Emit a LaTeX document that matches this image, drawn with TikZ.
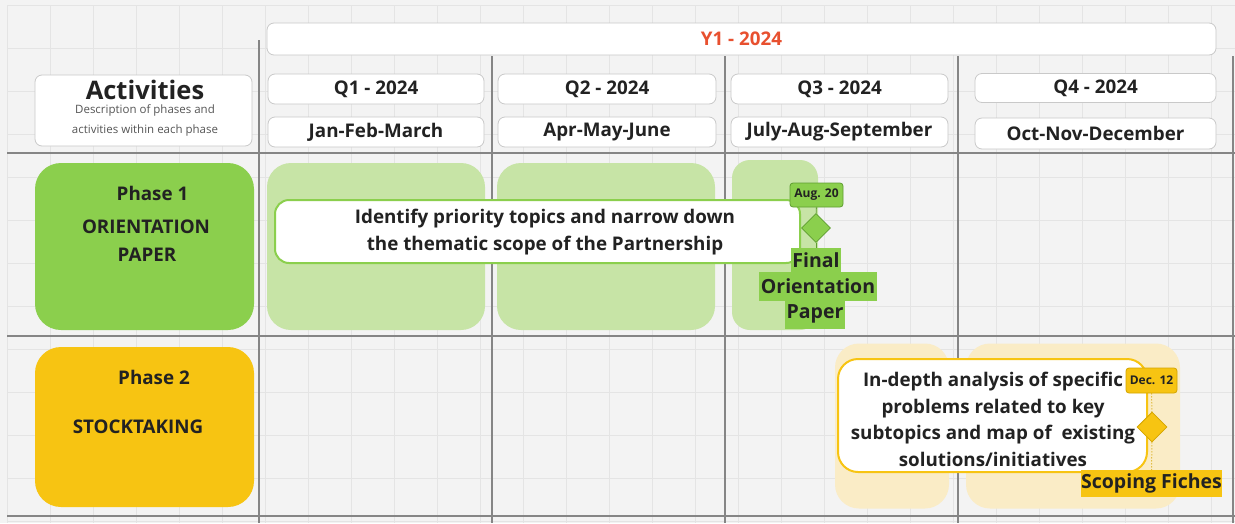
\documentclass[tikz,border=0pt]{standalone}
\usepackage{fontspec}
\setmainfont{Open Sans}
\usetikzlibrary{shapes.geometric}
\definecolor{bgc}{HTML}{F3F3F3}
\definecolor{gridc}{HTML}{E4E4E4}
\definecolor{sepc}{HTML}{858585}
\definecolor{hdrline}{HTML}{C9C9C9}
\definecolor{txt}{HTML}{222222}
\definecolor{redt}{HTML}{E8502F}
\definecolor{greenA}{HTML}{8BCF4D}
\definecolor{greenL}{HTML}{C7E4A6}
\definecolor{greenD}{HTML}{5E9E30}
\definecolor{yelA}{HTML}{F7C412}
\definecolor{yelL}{HTML}{FAECC6}
\definecolor{yelD}{HTML}{D4A500}
\definecolor{desct}{HTML}{555555}
\tikzset{
  bigtext/.style={font=\fontsize{18.8}{26.5}\selectfont\bfseries, text=txt},
  hdr/.style={draw=hdrline, line width=0.8pt, fill=white, rounded corners=7pt, bigtext, inner sep=0pt},
  phasebox/.style={rounded corners=26pt, inner sep=0pt},
  bandbox/.style={rounded corners=24pt, inner sep=0pt},
  taskbox/.style={fill=white, line width=2pt, rounded corners=14pt, inner sep=0pt, bigtext, align=center},
  tagbox/.style={rounded corners=3pt, line width=0.8pt, inner sep=0pt, font=\fontsize{12}{13}\selectfont\bfseries, text=txt},
  milestone/.style={diamond, inner sep=0pt, minimum width=29pt, minimum height=29pt, line width=0.8pt},
  dlv/.style={inner sep=0pt, font=\fontsize{19.5}{22}\selectfont\bfseries, text=txt},
  sep/.style={draw=sepc, line width=1.1pt},
}
\begin{document}
\begin{tikzpicture}[x=1pt,y=-1pt]
\useasboundingbox (0,0) rectangle (1235,523);
\fill[bgc] (0,0) rectangle (1235,523);
% faint grid
\foreach \gx in {7,50,...,1235} \draw[gridc, line width=0.6pt] (\gx,5) -- (\gx,523);
\foreach \gy in {5,48,...,523} \draw[gridc, line width=0.6pt] (7,\gy) -- (1235,\gy);
% separator lines
\draw[sep] (7,153) -- (1235,153);
\draw[sep] (7,336) -- (1235,336);
\draw[sep] (7,516) -- (1235,516);
\draw[sep] (259,40) -- (259,523);
\draw[sep] (492,56) -- (492,523);
\draw[sep] (725,56) -- (725,523);
\draw[sep] (958,56) -- (958,523);
\draw[sep] (1233,56) -- (1233,523);

% header
\node[hdr, minimum width=949pt, minimum height=32pt, text=redt] (y1) at (741.5,39) {Y1 - 2024};
\node[hdr, minimum width=217pt, minimum height=71pt] (act) at (143.5,110.5) {};
\node[font=\fontsize{25.5}{28}\selectfont\bfseries, text=txt, inner sep=0pt] (actt) at (145,90) {Activities};
\node[font=\fontsize{11.5}{20}\selectfont, text=desct, align=center, inner sep=0pt] (actd) at (145,120) {Description of phases and\\activities within each phase};

\node[hdr, minimum width=216pt, minimum height=30pt] (q1) at (376,89) {Q1 - 2024};
\node[hdr, minimum width=218pt, minimum height=30pt] (q2) at (607,89) {Q2 - 2024};
\node[hdr, minimum width=217pt, minimum height=30pt] (q3) at (839.5,89) {Q3 - 2024};
\node[hdr, minimum width=241pt, minimum height=29pt] (q4) at (1095.5,88) {Q4 - 2024};
\node[hdr, minimum width=216pt, minimum height=30pt] (m1) at (376,132) {Jan-Feb-March};
\node[hdr, minimum width=218pt, minimum height=30pt] (m2) at (607,132) {Apr-May-June};
\node[hdr, minimum width=217pt, minimum height=30pt] (m3) at (839.5,132) {July-Aug-September};
\node[hdr, minimum width=241pt, minimum height=31pt] (m4) at (1095.5,133.5) {Oct-Nov-December};

% phase 1
\node[phasebox, fill=greenA, minimum width=219pt, minimum height=167pt] (p1) at (144.5,246.5) {};
\node[bigtext, inner sep=0pt] (p1a) at (152.5,193) {Phase 1};
\node[bigtext, inner sep=0pt] (p1b) at (146,227) {ORIENTATION};
\node[bigtext, inner sep=0pt] (p1c) at (147,255) {PAPER};

\node[bandbox, fill=greenL, minimum width=218pt, minimum height=167pt] (g1) at (376,246.5) {};
\node[bandbox, fill=greenL, minimum width=218pt, minimum height=167pt] (g2) at (606,246.5) {};
\node[bandbox, rounded corners=18pt, fill=greenL, minimum width=86pt, minimum height=170pt] (g3) at (775,245) {};

\node[taskbox, draw=greenA, minimum width=525pt, minimum height=63pt] (t1) at (537.5,231.5) {};
\node[bigtext, align=center, inner sep=0pt] (t1t) at (545,232) {Identify priority topics and narrow down\\the thematic scope of the Partnership};

\node[tagbox, fill=greenA, draw=greenD, minimum width=53pt, minimum height=24pt] (aug) at (816.5,195) {Aug. 20};
\node[milestone, fill=greenA, draw=greenD] (d1) at (816,228) {};
\node[dlv, fill=greenA, minimum height=24pt, inner xsep=1pt] (f1) at (816,260) {Final};
\node[dlv, fill=greenA, minimum height=29pt, inner xsep=2pt] (f2) at (818,286) {Orientation};
\node[dlv, fill=greenA, minimum height=29pt, inner xsep=2pt] (f3) at (815,314) {Paper};
\draw[greenD, line width=0.9pt] (aug) -- (d1);
\draw[greenD, line width=0.9pt] (d1) -- (f1);

% phase 2
\node[phasebox, fill=yelA, minimum width=219pt, minimum height=160pt] (p2) at (144.5,427) {};
\node[bigtext, inner sep=0pt] (p2a) at (154,377) {Phase 2};
\node[bigtext, inner sep=0pt] (p2b) at (138,427) {STOCKTAKING};

\node[bandbox, fill=yelL, minimum width=114pt, minimum height=165pt] (y1b) at (892,426) {};
\node[bandbox, fill=yelL, minimum width=214pt, minimum height=165pt] (y2b) at (1073,426) {};

\node[taskbox, draw=yelA, rounded corners=20pt, minimum width=309pt, minimum height=113pt] (t2) at (992.5,415.5) {};
\node[bigtext, align=center, inner sep=0pt] (t2t) at (993,419.5) {In-depth analysis of specific\\problems related to key\\subtopics and map of\ \ existing\\solutions/initiatives};

\node[tagbox, fill=yelA, draw=yelD, minimum width=51pt, minimum height=25pt] (dec) at (1151.5,380.5) {Dec. 12};
\node[milestone, fill=yelA, draw=yelD, minimum width=30pt, minimum height=30pt] (d2) at (1152,427) {};
\node[dlv, fill=yelA, minimum width=139pt, minimum height=27pt] (sf) at (1151.5,483.5) {Scoping Fiches};
\draw[yelD, line width=1pt, dotted] (dec) -- (d2);
\draw[yelD, line width=1pt, dotted] (d2) -- (sf);
\end{tikzpicture}
\end{document}
